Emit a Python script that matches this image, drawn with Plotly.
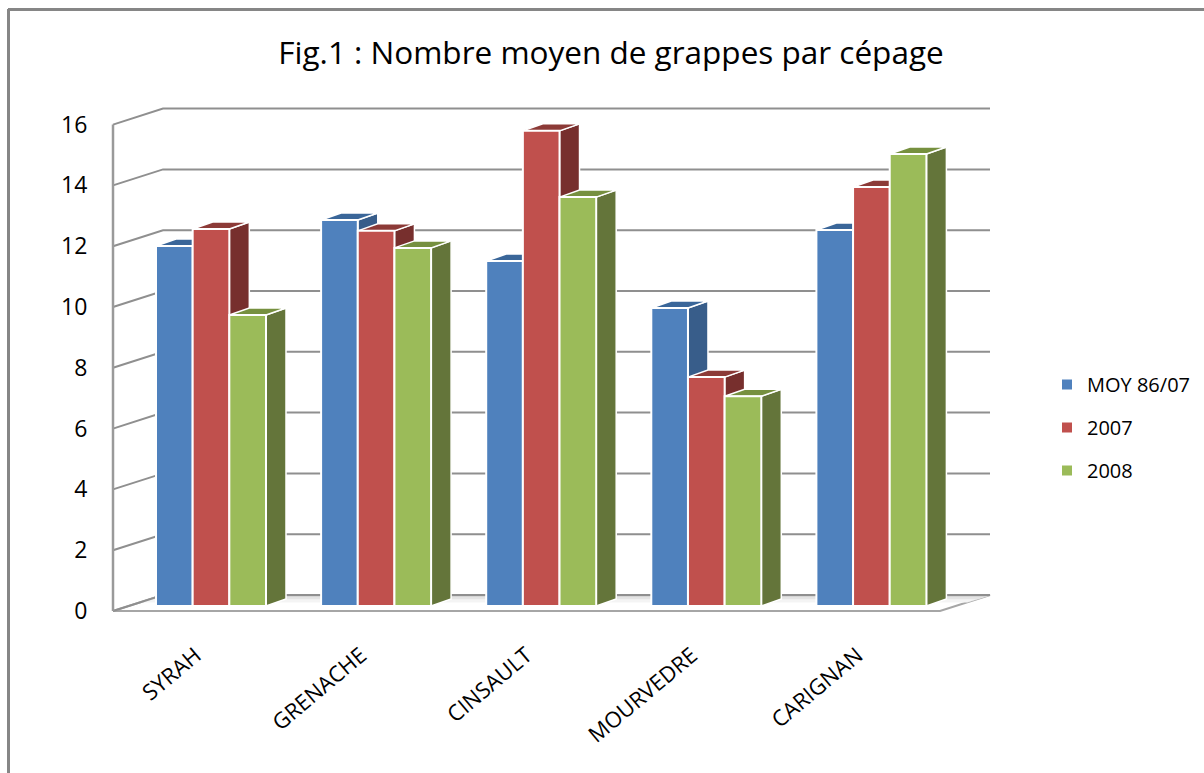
import plotly.graph_objects as go

categories = ["SYRAH", "GRENACHE", "CINSAULT", "MOURVEDRE", "CARIGNAN"]
series_names = ["MOY 86/07", "2007", "2008"]
moy_86_07 = [11.84, 12.7, 11.35, 9.8, 12.37]
v2007 = [12.4, 12.34, 15.63, 7.53, 13.78]
v2008 = [9.57, 11.78, 13.45, 6.9, 14.87]
y_ticks = list(range(0, 18, 2))
front_colors = ["#4F81BD", "#C0504D", "#9BBB59"]
side_colors = ["#385D8A", "#772F2D", "#64753A"]
top_colors = ["#3A6699", "#8C3A37", "#76903F"]
title_text = "Fig.1 : Nombre moyen de grappes par cépage"

W, H = 1204, 773
PL, PR, PT, PB = 108, 992, 104, 615      # pixel box of the plot area
AX_X, AX_Y = 113, 611                    # pixel of the front-left corner
CAT_PX, UNIT_PX = 165.4, 30.4            # one category / one y unit in pixels
x0 = -0.5
x_rng = [x0 - (AX_X - PL) / CAT_PX, x0 + (PR - AX_X) / CAT_PX]
y_rng = [-(PB - AX_Y) / UNIT_PX, (AX_Y - PT) / UNIT_PX]
WALL_DX, WALL_DY = 50 / CAT_PX, 16 / UNIT_PX
BAR_DX, BAR_DY = 20 / 165.1, 7 / UNIT_PX
# plane of the bars: category 0 centred at pixel 211, base at pixel 606
BAR_CAT_PX = 165.1
x_rng2 = [(PL - 211) / BAR_CAT_PX, (PR - 211) / BAR_CAT_PX]
y_rng2 = [-(PB - 606) / UNIT_PX, (606 - PT) / UNIT_PX]
GROUP = 110 / BAR_CAT_PX
BW = GROUP / 3
GRID = "#8F8F8F"
FONT = "Open Sans"
FLOOR_LEN = 827 / CAT_PX
x_back_end = x0 + (990 - AX_X) / CAT_PX

fig = go.Figure()


def poly(xs, ys, color, xa="x", ya="y", line="white", lw=1.5):
    fig.add_trace(go.Scatter(
        x=xs + xs[:1], y=ys + ys[:1], mode="lines", fill="toself", fillcolor=color,
        line=dict(color=line, width=lw), xaxis=xa, yaxis=ya,
        showlegend=False, hoverinfo="skip"))


# floor, shaded towards the back
poly([x0, x0 + FLOOR_LEN, x0 + WALL_DX + FLOOR_LEN, x0 + WALL_DX],
     [0, 0, WALL_DY, WALL_DY], "#FFFFFF", line="#A6A6A6", lw=2)
for frac, shade in [(0.55, "#F4F4F4"), (0.75, "#E4E4E4"), (0.9, "#CFCFCF")]:
    poly([x0 + WALL_DX * frac, x0 + FLOOR_LEN + WALL_DX * frac, x0 + WALL_DX + FLOOR_LEN, x0 + WALL_DX],
         [WALL_DY * frac, WALL_DY * frac, WALL_DY, WALL_DY], shade, line=shade, lw=0.5)

# gridlines on the side and back walls
for t in y_ticks:
    fig.add_trace(go.Scatter(
        x=[x0, x0 + WALL_DX, x_back_end], y=[t, t + WALL_DY, t + WALL_DY],
        mode="lines", line=dict(color=GRID, width=2),
        showlegend=False, hoverinfo="skip"))

# vertical value axis
fig.add_trace(go.Scatter(
    x=[x0, x0], y=[y_ticks[0], y_ticks[-1]], mode="lines",
    line=dict(color="#9A9A9A", width=2.5), showlegend=False, hoverinfo="skip"))

# sides and tops of the bars, computed from the values
all_values = [moy_86_07, v2007, v2008]
for c in range(len(categories)):
    for s, vals in enumerate(all_values):
        v = vals[c]
        xl = c + (s - 1.5) * BW
        xr = xl + BW
        poly([xr, xr + BAR_DX, xr + BAR_DX, xr], [0, BAR_DY, v + BAR_DY, v],
             side_colors[s], "x2", "y2")
        poly([xl, xr, xr + BAR_DX, xl + BAR_DX], [v, v, v + BAR_DY, v + BAR_DY],
             top_colors[s], "x2", "y2")

# front faces
for s, vals in enumerate(all_values):
    fig.add_trace(go.Bar(
        x=categories, y=vals, name=series_names[s], xaxis="x3", yaxis="y3",
        marker=dict(color=front_colors[s], line=dict(color="white", width=2)),
        legendgroup=series_names[s]))

hidden = dict(visible=False, showgrid=False, zeroline=False)
fig.update_layout(
    width=W, height=H,
    margin=dict(l=PL, r=W - PR, t=PT, b=H - PB, autoexpand=False),
    paper_bgcolor="white", plot_bgcolor="white",
    barmode="group", bargap=1 - GROUP, bargroupgap=0,
    font=dict(family=FONT, color="#000000"),
    title=dict(text=title_text, x=611 / W, xanchor="center", xref="container",
               y=1 - 53 / H, yanchor="middle", yref="container",
               font=dict(size=31.5, family=FONT, color="#000000")),
    xaxis=dict(range=x_rng, tickmode="array", tickvals=list(range(len(categories))),
               ticktext=categories, tickangle=-40, showgrid=False, zeroline=False,
               showline=False, ticks="outside", ticklen=18, tickcolor="rgba(0,0,0,0)",
               tickfont=dict(size=22, family=FONT)),
    yaxis=dict(range=y_rng, tickmode="array", tickvals=y_ticks, showgrid=False,
               zeroline=False, showline=False, ticks="outside", ticklen=15,
               tickcolor="rgba(0,0,0,0)", tickfont=dict(size=23, family=FONT)),
    xaxis2=dict(range=x_rng2, overlaying="x", anchor="y2", **hidden),
    yaxis2=dict(range=y_rng2, overlaying="y", anchor="x2", **hidden),
    xaxis3=dict(range=x_rng2, overlaying="x", anchor="y3", type="category",
                categoryorder="array", categoryarray=categories, **hidden),
    yaxis3=dict(range=y_rng2, overlaying="y", anchor="x3", **hidden),
    legend=dict(x=1047 / W, xref="container", xanchor="left", y=1 - 365 / H, yref="container",
                yanchor="top", font=dict(size=20, family=FONT), tracegroupgap=14,
                bgcolor="rgba(0,0,0,0)", traceorder="grouped"),
    shapes=[dict(type="line", xref="paper", yref="paper",
                 x0=(8.5 - PL) / (PR - PL), x1=(8.5 - PL) / (PR - PL),
                 y0=(PB - 773) / (PB - PT), y1=(PB - 9) / (PB - PT),
                 line=dict(color="#868686", width=3)),
            dict(type="line", xref="paper", yref="paper",
                 x0=(8 - PL) / (PR - PL), x1=(1204 - PL) / (PR - PL),
                 y0=(PB - 9.5) / (PB - PT), y1=(PB - 9.5) / (PB - PT),
                 line=dict(color="#868686", width=3))],
)

fig.write_html("out.html", config={"displayModeBar": False},
               post_script="document.body.style.margin='0';document.body.style.overflow='hidden';")
